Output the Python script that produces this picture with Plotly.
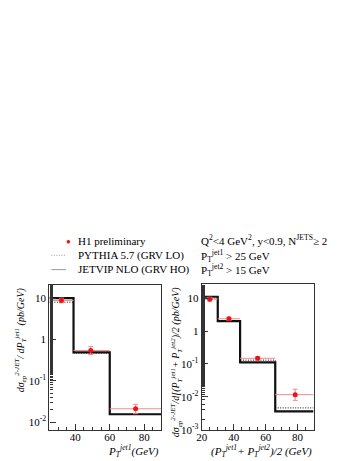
"""H1 dijet photoproduction cross sections: data vs PYTHIA / JETVIP, two log panels."""
import plotly.graph_objects as go

# left panel: dsigma/dPT(jet1)
L_EDGES = [25, 39, 60, 90]
L_JETVIP = [10.0, 0.49, 0.0155]
L_PYTHIA = [8.0, 0.47, 0.0155]
L_X = [32, 49, 75]
L_Y = [8.8, 0.54, 0.021]
L_EY_UP = [1.2, 0.13, 0.006]
L_EY_DN = [1.1, 0.11, 0.005]

# right panel: dsigma/d(mean PT)
R_EDGES = [20, 30, 44, 66, 90]
R_JETVIP = [11.0, 2.0, 0.112, 0.0036]
R_PYTHIA = [9.5, 2.05, 0.13, 0.0046]
R_X = [25, 37, 55, 78.5]
R_Y = [9.3, 2.35, 0.148, 0.0116]
R_EY_UP = [1.3, 0.3, 0.02, 0.0054]
R_EY_DN = [1.2, 0.28, 0.018, 0.0038]

W, H = 356, 461
FONT = "Liberation Serif"
RED = "#e8141a"
PINK = "#f08a8a"


def px(x):
    return x / W


def py(y):
    return 1 - y / H


def steps(edges, vals):
    return list(edges), list(vals) + [vals[-1]]


def add_panel(fig, n, edges, jetvip, pythia, xs, ys, up, dn):
    xa = "x" if n == 1 else "x2"
    ya = "y" if n == 1 else "y2"
    sx, sy = steps(edges, jetvip)
    fig.add_trace(go.Scatter(x=sx, y=sy, mode="lines", line_shape="hv",
                             line=dict(color="#111", width=2.2), xaxis=xa, yaxis=ya))
    sx, sy = steps(edges, pythia)
    fig.add_trace(go.Scatter(x=sx, y=sy, mode="lines", line_shape="hv",
                             line=dict(color="#111", width=1, dash="1px,1.5px"),
                             xaxis=xa, yaxis=ya))
    lo = [x - a for x, a in zip(xs, edges[:-1])]
    hi = [b - x for x, b in zip(xs, edges[1:])]
    fig.add_trace(go.Scatter(
        x=xs, y=ys, mode="markers", xaxis=xa, yaxis=ya,
        marker=dict(color=RED, size=5),
        error_x=dict(type="data", array=hi, arrayminus=lo, color=PINK, thickness=1, width=0),
        error_y=dict(type="data", array=up, arrayminus=dn, color=PINK, thickness=1, width=2.5),
    ))


fig = go.Figure()
add_panel(fig, 1, L_EDGES, L_JETVIP, L_PYTHIA, L_X, L_Y, L_EY_UP, L_EY_DN)
add_panel(fig, 2, R_EDGES, R_JETVIP, R_PYTHIA, R_X, R_Y, R_EY_UP, R_EY_DN)

axis_common = dict(showgrid=False, zeroline=False, showline=True, mirror=True,
                   linecolor="#333", linewidth=1.3, ticks="inside", ticklen=6,
                   tickcolor="#333", tickfont=dict(family=FONT, size=11, color="black"))

fig.update_layout(
    width=W, height=H, margin=dict(l=0, r=0, t=0, b=0),
    paper_bgcolor="white", plot_bgcolor="white", showlegend=False,
    font=dict(family=FONT, size=11, color="black"),
    xaxis=dict(axis_common, domain=[px(36), px(150)], range=[25, 90],
               tickvals=[40, 60, 80], anchor="y", ticklabelstandoff=-4,
               minor=dict(ticks="inside", ticklen=3, dtick=5, tickcolor="#333")),
    yaxis=dict(axis_common, domain=[py(427), py(280)], type="log", range=[-2.2, 1.32],
               tickvals=[0.01, 0.1, 1, 10],
               ticktext=["10<sup>-2</sup>", "10<sup>-1</sup>", "1", "10"], anchor="x",
               minor=dict(ticks="inside", ticklen=3, tickcolor="#333")),
    xaxis2=dict(axis_common, domain=[px(191), px(304.7)], range=[20, 90],
                tickvals=[20, 40, 60, 80], anchor="y2", ticklabelstandoff=-4,
                minor=dict(ticks="inside", ticklen=3, dtick=5, tickcolor="#333")),
    yaxis2=dict(axis_common, domain=[py(427), py(279.3)], type="log", range=[-3.02, 1.42],
                tickvals=[0.001, 0.01, 0.1, 1, 10],
                ticktext=["10<sup>-3</sup>", "10<sup>-2</sup>", "10<sup>-1</sup>", "1", "10"],
                anchor="x2",
                minor=dict(ticks="inside", ticklen=3, tickcolor="#333")),
)

ann = []


def text(x, y, s, xanchor="left", yanchor="middle", angle=0, size=11):
    ann.append(dict(x=px(x), y=py(y), xref="paper", yref="paper", text=s, showarrow=False,
                    xanchor=xanchor, yanchor=yanchor, textangle=angle,
                    font=dict(family=FONT, size=size, color="black")))


# legend block
ann.append(dict(x=px(55), y=py(236), xref="paper", yref="paper", text="●", showarrow=False,
                font=dict(color=RED, size=8), xanchor="center", yanchor="middle"))
text(63, 236, "H1 preliminary")
text(63, 250, "PYTHIA 5.7 (GRV LO)")
text(63, 264.5, "JETVIP NLO (GRV HO)")
text(188, 235, "Q<sup>2</sup><4 GeV<sup>2</sup>, y<0.9, N<sup>JETS</sup>≥ 2")
text(188, 251, "P<sub>T</sub><sup>jet1</sup> > 25 GeV")
text(188, 265, "P<sub>T</sub><sup>jet2</sup> > 15 GeV")

# axis titles
text(150, 448, "<i>P<sub>T</sub><sup>jet1</sup>(GeV)</i>", xanchor="right")
text(305, 448, "<i>(P<sub>T</sub><sup>jet1</sup>+ P<sub>T</sub><sup>jet2</sup>)/2 (GeV)</i>",
     xanchor="right")
text(7, 280, "<i>dσ<sub>ep</sub><sup>2-JET</sup>/ dP<sub>T</sub><sup>jet1</sup> (pb/GeV)</i>",
     xanchor="center", yanchor="top", angle=-90, size=10)
text(165, 280, "<i>dσ<sub>ep</sub><sup>2-JET</sup>/d[(P<sub>T</sub><sup>jet1</sup>+ "
     "P<sub>T</sub><sup>jet2</sup>)/2 (pb/GeV)</i>",
     xanchor="center", yanchor="top", angle=-90, size=10)

fig.update_layout(
    annotations=ann,
    shapes=[
        dict(type="line", xref="paper", yref="paper", x0=px(38), x1=px(53), y0=py(250), y1=py(250),
             line=dict(color="#999", width=1, dash="1px,1.5px")),
        dict(type="line", xref="paper", yref="paper", x0=px(38), x1=px(53), y0=py(264.5),
             y1=py(264.5), line=dict(color="#999", width=1)),
    ],
)

fig.write_html("out.html")
